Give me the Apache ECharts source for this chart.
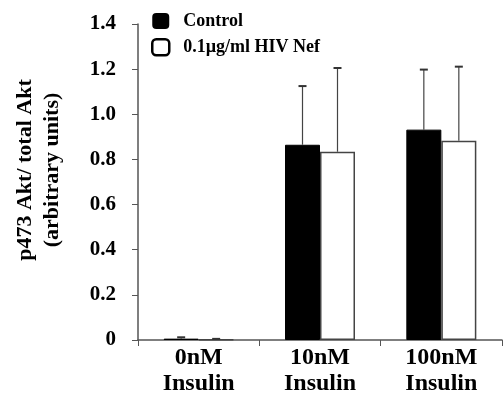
<!DOCTYPE html>
<html><head><meta charset="utf-8">
<script src="https://cdn.jsdelivr.net/npm/echarts@6/dist/echarts.min.js"></script>
<style>html,body{margin:0;padding:0;background:#fff}#c{width:503px;height:400px}</style>
</head><body><div id="c"></div>
<script>
const categories = ['0nM\nInsulin', '10nM\nInsulin', '100nM\nInsulin'];
const seriesNames = ['Control', '0.1\u00b5g/ml HIV Nef'];
const controlValues = [0.006, 0.865, 0.932];
const controlErrors = [0.006, 0.26, 0.266];
const nefValues = [0.002, 0.834, 0.883];
const nefErrors = [0.003, 0.371, 0.328];
const yTicks = [0, 0.2, 0.4, 0.6, 0.8, 1.0, 1.2, 1.4];
const yTitleLines = ['p473 Akt/ total Akt', '(arbitrary units)'];

const FONT = '"Liberation Serif", "Times New Roman", serif';
const BAR_W = 35;

function errSeries(values, errors, offset) {
  return {
    type: 'custom',
    z: 5,
    silent: true,
    data: values.map((v, i) => [i, v, v + errors[i]]),
    renderItem: function (params, api) {
      const base = api.coord([api.value(0), api.value(1)]);
      const top = api.coord([api.value(0), api.value(2)]);
      const x = base[0] + offset;
      return {
        type: 'group',
        children: [
          { type: 'line', shape: { x1: x, y1: base[1], x2: x, y2: top[1] }, style: { stroke: '#444', lineWidth: 1.2 } },
          { type: 'line', shape: { x1: x - 4, y1: top[1], x2: x + 4, y2: top[1] }, style: { stroke: '#333', lineWidth: 2 } }
        ]
      };
    }
  };
}

const chart = echarts.init(document.getElementById('c'));
chart.setOption({
  animation: false,
  backgroundColor: '#fff',
  grid: { left: 138, right: 1, top: 24, bottom: 60, containLabel: false, outerBoundsMode: 'none' },
  legend: {
    orient: 'vertical', left: 146, top: 7, itemWidth: 17, itemHeight: 16, itemGap: 8,
    textStyle: { fontFamily: FONT, fontWeight: 'bold', fontSize: 18, color: '#000', padding: [0, 0, 0, 9] },
    data: [
      { name: seriesNames[0], icon: 'roundRect', itemStyle: { color: '#000', borderWidth: 0 } },
      { name: seriesNames[1], icon: 'roundRect', itemStyle: { color: '#fff', borderColor: '#000', borderWidth: 2.5 } }
    ]
  },
  xAxis: {
    type: 'category', data: categories,
    axisLine: { lineStyle: { color: '#555', width: 1.5 } },
    axisTick: { show: true, length: 6, lineStyle: { color: '#555' } },
    axisLabel: { fontFamily: FONT, fontWeight: 'bold', fontSize: 24, color: '#000', lineHeight: 26, margin: 5 }
  },
  yAxis: {
    type: 'value', min: 0, max: 1.4, interval: 0.2,
    name: yTitleLines.map(s => '{t|' + s + '}').join('\n'),
    nameLocation: 'middle', nameRotate: 90, nameGap: 72,
    nameTextStyle: {
      fontFamily: FONT, fontWeight: 'bold', fontSize: 22, color: '#000', padding: [0, 0, 0, 24],
      rich: { t: { fontFamily: FONT, fontWeight: 'bold', fontSize: 22, color: '#000', lineHeight: 27 } }
    },
    splitLine: { show: false },
    axisLine: { show: true, lineStyle: { color: '#555', width: 1.5 } },
    axisTick: { show: true, length: 6, lineStyle: { color: '#555' } },
    axisLabel: {
      fontFamily: FONT, fontWeight: 'bold', fontSize: 21, color: '#000', margin: 22,
      formatter: v => { const t = yTicks.find(x => Math.abs(x - v) < 1e-9); return t === 0 ? '0' : (t !== undefined ? t.toFixed(1) : ''); }
    }
  },
  series: [
    { name: seriesNames[0], type: 'bar', data: controlValues, barWidth: BAR_W, barGap: '0%',
      itemStyle: { color: '#000', borderColor: '#000', borderWidth: 1 } },
    { name: seriesNames[1], type: 'bar', data: nefValues, barWidth: BAR_W, barGap: '0%',
      itemStyle: { color: '#fff', borderColor: '#444', borderWidth: 1.5 } },
    errSeries(controlValues, controlErrors, -BAR_W / 2),
    errSeries(nefValues, nefErrors, BAR_W / 2)
  ]
});
</script></body></html>
